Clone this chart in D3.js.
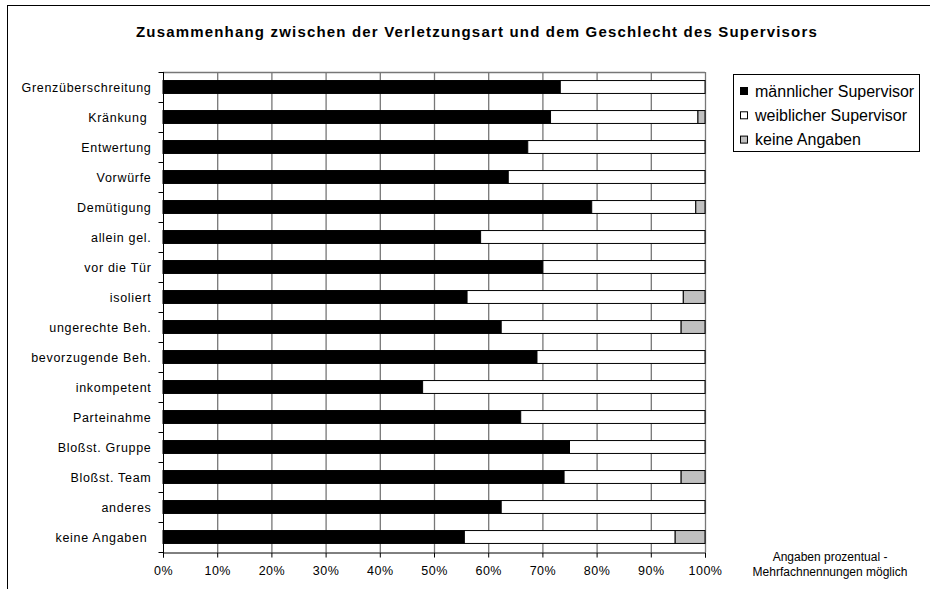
<!DOCTYPE html>
<html><head><meta charset="utf-8">
<script src="https://cdn.jsdelivr.net/npm/d3@7"></script>
<style>body{margin:0;background:#fff}svg{display:block}text{font-family:"Liberation Sans",Arial,sans-serif;fill:#000}</style>
</head><body>
<svg id="c" width="930" height="589"></svg>
<script>
const categories = ["Grenzüberschreitung","Kränkung ","Entwertung","Vorwürfe","Demütigung","allein gel.","vor die Tür","isoliert","ungerechte Beh.","bevorzugende Beh.","inkompetent","Parteinahme","Bloßst. Gruppe","Bloßst. Team","anderes","keine Angaben "];
const maleValues =   [73.3,71.5,67.3,63.7,79.1,58.6,70.1,56.1,62.4,69.0,47.9,66.0,75.0,74.0,62.4,55.6];
const femaleValues = [26.7,27.2,32.7,36.3,19.2,41.4,29.9,39.9,33.2,31.0,52.1,34.0,25.0,21.6,37.6,38.9];
const noneValues =   [0,1.3,0,0,1.7,0,0,4.0,4.4,0,0,0,0,4.4,0,5.5];
const seriesNames = ["männlicher Supervisor","weiblicher Supervisor","keine Angaben"];
const seriesColors = ["#000000","#ffffff","#c0c0c0"];
const xTicks = [0,10,20,30,40,50,60,70,80,90,100];
const titleText = "Zusammenhang zwischen der Verletzungsart und dem Geschlecht des Supervisors";
const noteLines = ["Angaben prozentual -","Mehrfachnennungen möglich"];

const svg = d3.select("#c");

function fit(sel, target){
  sel.each(function(){
    const n = this.textContent.length;
    const w = this.getComputedTextLength();
    d3.select(this).attr("letter-spacing", ((target - w)/n).toFixed(3));
  });
}

svg.append("rect").attr("x",7.5).attr("y",5.5).attr("width",940).attr("height",600)
  .attr("fill","none").attr("stroke","#000").attr("stroke-width",1);

const title = svg.append("text").attr("x",477).attr("y",37).attr("text-anchor","middle")
  .attr("font-weight","bold").attr("font-size",15).text(titleText);
fit(title, 682);

const L=163, R=705, T=72, B=552;
const xs = d3.scaleLinear().domain([0,100]).range([L,R]);
const ys = d3.scaleBand().domain(categories).range([T,B]).paddingInner(0.57).paddingOuter(0.285);

// gridlines via axis generator
const gridG = svg.append("g").attr("transform",`translate(0,${T})`)
  .call(d3.axisTop(xs).tickValues(xTicks.slice(1)).tickSize(-(B-T)).tickFormat(""));
gridG.select(".domain").remove();
gridG.selectAll(".tick line").attr("stroke","#777").attr("stroke-width",1.3);
svg.append("path").attr("d",`M${L},${T+0.5}H${R}`).attr("stroke","#777").attr("stroke-width",1.3).attr("fill","none");

// stacked bars
const bars = svg.append("g").attr("class","bars");
const rows = categories.map((c,i)=>({c, vals:[maleValues[i],femaleValues[i],noneValues[i]]}));
const stack = d3.stack().keys([0,1,2]).value((d,k)=>d.vals[k]);
const layers = stack(rows);
layers.forEach((layer,k)=>{
  bars.append("g").selectAll("rect").data(layer.filter(d=>d[1]-d[0]>0)).join("rect")
    .attr("x",d=>xs(d[0])).attr("width",d=>xs(d[1])-xs(d[0]))
    .attr("y",d=>ys(d.data.c)).attr("height",ys.bandwidth())
    .attr("fill",seriesColors[k]).attr("stroke","#000").attr("stroke-width",1);
});

// x axis
const xa = svg.append("g").attr("transform",`translate(0,${B+0.5})`)
  .call(d3.axisBottom(xs).tickValues(xTicks).tickFormat(d=>d+"%").tickSize(5).tickPadding(9));
xa.select(".domain").attr("stroke","#000");
xa.selectAll("text").attr("font-size",12.5).attr("letter-spacing",0.5).attr("fill","#000")
  .style("font-family","Liberation Sans, Arial, sans-serif");

// y axis
const yl = svg.append("g").attr("transform",`translate(${L+0.5},0)`);
yl.append("line").attr("y1",T).attr("y2",B+5).attr("stroke","#000");
const step = ys.step();
yl.selectAll("line.t").data(d3.range(categories.length+1)).join("line")
  .attr("x1",-5).attr("x2",0).attr("y1",i=>Math.round(T+i*step)+0.5).attr("y2",i=>Math.round(T+i*step)+0.5).attr("stroke","#000");
svg.append("g").selectAll("text").data(categories).join("text")
  .attr("x",151.5).attr("y",d=>ys(d)+ys.bandwidth()/2).attr("dy","0.36em")
  .attr("text-anchor","end").attr("font-size",12.5).attr("letter-spacing",0.7)
  .style("white-space","pre").text(d=>d);

// legend
const lg = svg.append("g");
lg.append("rect").attr("x",733.5).attr("y",74.5).attr("width",186).attr("height",77).attr("fill","#fff").attr("stroke","#000");
seriesNames.forEach((n,i)=>{
  const cy = 91 + i*24.3;
  lg.append("rect").attr("x",740.5).attr("y",cy-3.5).attr("width",7).attr("height",7)
    .attr("fill",seriesColors[i]).attr("stroke","#000");
  lg.append("text").attr("x",755).attr("y",cy).attr("dy","0.36em").attr("font-size",16).text(n);
});

// note
svg.append("g").selectAll("text").data(noteLines).join("text")
  .attr("x",830).attr("y",(d,i)=>561+i*15).attr("text-anchor","middle").attr("font-size",12).text(d=>d);
</script>
</body></html>
